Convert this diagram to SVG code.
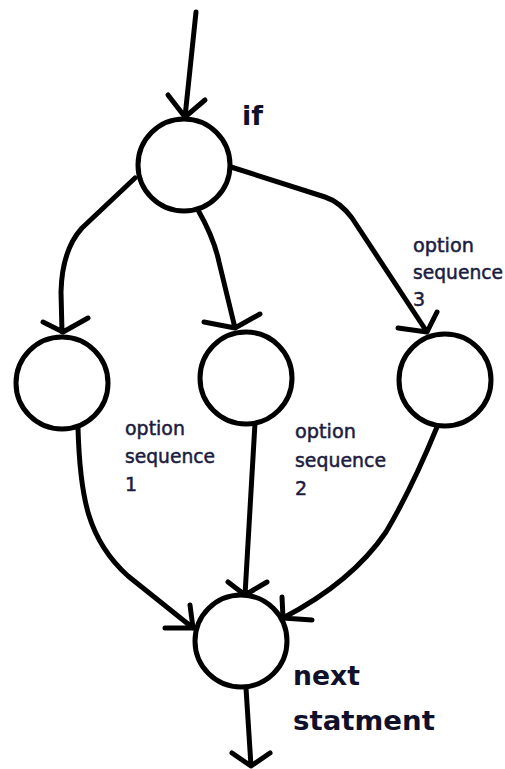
<svg xmlns="http://www.w3.org/2000/svg" width="505" height="769" viewBox="0 0 505 769">
<style>
.node{fill:#fff;stroke:#000;stroke-width:5}
.edge{fill:none;stroke:#000;stroke-width:5;stroke-linecap:round;stroke-linejoin:round}
.big{font-family:"DejaVu Sans",Verdana,sans-serif;font-weight:bold;font-size:27px;fill:#10102a}
.lbl{font-family:"DejaVu Sans",Verdana,sans-serif;font-size:19px;fill:#1c1c40;stroke:#1c1c40;stroke-width:0.5}
</style>
<rect width="505" height="769" fill="#fff"/>
<g id="connectors">
<path class="edge" d="M196,12 L185,117 M168,95 L185,117 L205,100"/>
<path class="edge" d="M135,178 L82,228 Q62,250 61,292 L62,332 M43,322 L63,332 L88,318"/>
<path class="edge" d="M198,210 Q214,238 219,262 L235,328 M204,322 L235,328 L260,314"/>
<path class="edge" d="M231,167 L325,197 Q340,202 352,218 L427,332 M398,328 L427,332 L437,312"/>
<path class="edge" d="M78,428 C80,498 88,540 128,576 L193,628 M190,605 L193,628 L165,628"/>
<path class="edge" d="M255,423 L245,595 M228,582 L245,595 L267,582"/>
<path class="edge" d="M437,427 Q412,488 386,532 Q352,582 283,618 M282,597 L283,618 L312,620"/>
<path class="edge" d="M246,688 L251,766 M232,753 L251,766 L270,753"/>
</g>
<g id="if"><circle class="node" cx="184" cy="165" r="46"/><text class="big" x="242" y="125" font-size="29">if</text></g>
<g id="opt1"><circle class="node" cx="62" cy="383" r="46"/></g>
<g id="opt2"><circle class="node" cx="246" cy="378" r="46"/></g>
<g id="opt3"><circle class="node" cx="445" cy="380" r="46"/></g>
<g id="next"><circle class="node" cx="241" cy="641" r="46"/>
<text class="big" x="293" y="685" textLength="67" lengthAdjust="spacingAndGlyphs">next</text>
<text class="big" x="293" y="730" textLength="142" lengthAdjust="spacingAndGlyphs">statment</text></g>
<g id="label1">
<text class="lbl" x="125" y="435" textLength="60" lengthAdjust="spacingAndGlyphs">option</text>
<text class="lbl" x="125" y="463" textLength="90" lengthAdjust="spacingAndGlyphs">sequence</text>
<text class="lbl" x="125" y="491">1</text></g>
<g id="label2">
<text class="lbl" x="295" y="438" textLength="61" lengthAdjust="spacingAndGlyphs">option</text>
<text class="lbl" x="295" y="467" textLength="91" lengthAdjust="spacingAndGlyphs">sequence</text>
<text class="lbl" x="295" y="495">2</text></g>
<g id="label3">
<text class="lbl" x="413" y="252" textLength="61" lengthAdjust="spacingAndGlyphs">option</text>
<text class="lbl" x="413" y="279" textLength="90" lengthAdjust="spacingAndGlyphs">sequence</text>
<text class="lbl" x="413" y="306">3</text></g>
</svg>
